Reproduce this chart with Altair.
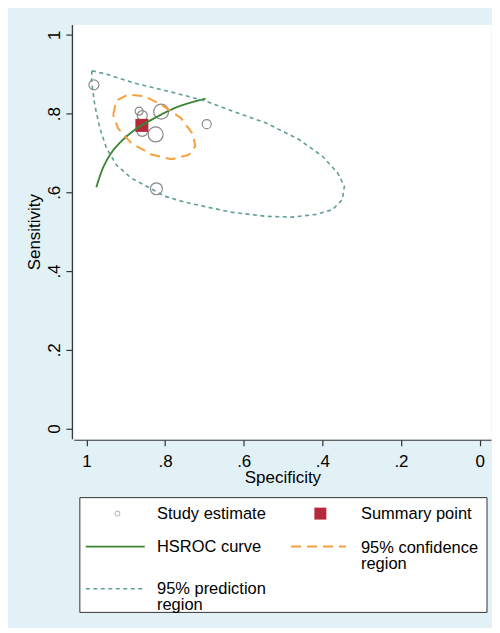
import altair as alt
import pandas as pd

# ---- data ----
study_spec = [0.981, 0.866, 0.858, 0.810, 0.694, 0.858, 0.824, 0.822]
study_sens = [0.873, 0.806, 0.795, 0.805, 0.773, 0.756, 0.747, 0.609]
study_weight = [100, 64, 100, 225, 81, 121, 225, 144]

summary_spec = [0.859]
summary_sens = [0.770]

hsroc_spec = [0.975, 0.958, 0.937, 0.911, 0.877, 0.835, 0.776, 0.697]
hsroc_sens = [0.613, 0.662, 0.700, 0.730, 0.759, 0.784, 0.814, 0.838]

conf_spec = [0.932, 0.924, 0.894, 0.852, 0.810, 0.759, 0.729, 0.723, 0.740,
             0.784, 0.835, 0.886, 0.920, 0.932]
conf_sens = [0.797, 0.833, 0.848, 0.844, 0.823, 0.788, 0.747, 0.717, 0.695,
             0.684, 0.696, 0.725, 0.763, 0.797]

pred_spec = [0.986, 0.945, 0.877, 0.810, 0.750, 0.695, 0.628, 0.543, 0.459,
             0.399, 0.361, 0.344, 0.349, 0.374, 0.416, 0.476, 0.543, 0.628,
             0.695, 0.750, 0.801, 0.839, 0.886, 0.924, 0.949, 0.966, 0.979,
             0.987, 0.986]
pred_sens = [0.909, 0.899, 0.877, 0.861, 0.846, 0.831, 0.806, 0.776, 0.734,
             0.691, 0.649, 0.615, 0.582, 0.556, 0.544, 0.537, 0.539, 0.549,
             0.563, 0.575, 0.590, 0.611, 0.636, 0.670, 0.712, 0.763, 0.823,
             0.882, 0.909]

tick_values = [0, 0.2, 0.4, 0.6, 0.8, 1]

legend_labels = ["Study estimate", "Summary point", "HSROC curve",
                 "95% confidence\nregion", "95% prediction\nregion"]

# ---- styles ----
FONT = "Liberation Sans"
FS = 17
LFS = 16.5
BG = "#e2f1f6"
C_STUDY = "#8a8a8a"
C_SUM = "#b5293b"
C_HSROC = "#3b8434"
C_CONF = "#f6a03c"
C_PRED = "#5e9f97"
DASH_CONF = [10, 6]
DASH_PRED = [4, 3.5]

study_df = pd.DataFrame({"spec": study_spec, "sens": study_sens, "w": study_weight})
summary_df = pd.DataFrame({"spec": summary_spec, "sens": summary_sens})
hsroc_df = pd.DataFrame({"spec": hsroc_spec, "sens": hsroc_sens,
                         "i": list(range(len(hsroc_spec)))})
conf_df = pd.DataFrame({"spec": conf_spec, "sens": conf_sens,
                        "i": list(range(len(conf_spec)))})
pred_df = pd.DataFrame({"spec": pred_spec, "sens": pred_sens,
                        "i": list(range(len(pred_spec)))})

label_expr = ("datum.value == 0 ? '0' : datum.value == 1 ? '1' : "
              "replace(format(datum.value, '.1f'), '0.', '.')")

x_enc = alt.X("spec:Q",
              scale=alt.Scale(domain=[-0.029, 1.032], reverse=True, nice=False, zero=False),
              axis=alt.Axis(values=tick_values, labelExpr=label_expr, title="Specificity",
                            grid=False, tickSize=6, offset=1, labelPadding=8,
                            titlePadding=0, labelFlush=False))
y_enc = alt.Y("sens:Q",
              scale=alt.Scale(domain=[-0.026, 1.026], nice=False, zero=False),
              axis=alt.Axis(values=tick_values, labelExpr=label_expr, title="Sensitivity",
                            grid=False, tickSize=6, offset=2, labelPadding=6,
                            labelAngle=270, labelAlign="center",
                            labelBaseline="alphabetic", titlePadding=2,
                            labelFlush=False))

pts = alt.Chart(study_df).mark_point(shape="circle", filled=False, color=C_STUDY,
                                     strokeWidth=1.2, opacity=1).encode(
    x=x_enc, y=y_enc,
    size=alt.Size("w:Q", scale=alt.Scale(domain=[0, 225], range=[0, 225]), legend=None))

summ = alt.Chart(summary_df).mark_point(shape="square", filled=True, color=C_SUM,
                                        size=170, opacity=1).encode(x="spec:Q", y="sens:Q")

hsroc = alt.Chart(hsroc_df).mark_line(color=C_HSROC, strokeWidth=1.8,
                                      interpolate="monotone").encode(
    x="spec:Q", y="sens:Q", order="i:Q")

conf = alt.Chart(conf_df).mark_line(color=C_CONF, strokeWidth=2,
                                    strokeDash=DASH_CONF).encode(
    x="spec:Q", y="sens:Q", order="i:Q")

pred = alt.Chart(pred_df).mark_line(color=C_PRED, strokeWidth=1.6,
                                    strokeDash=DASH_PRED).encode(
    x="spec:Q", y="sens:Q", order="i:Q")

main = alt.layer(pts, summ, hsroc, conf, pred).properties(
    width=418, height=415,
    view=alt.ViewBackground(fill="white", stroke="transparent"))

# ---- legend panel ----
one = pd.DataFrame({"k": [0]})
lab_df = pd.DataFrame({"label": legend_labels})

box = alt.Chart(one).mark_rect(fill="white", stroke="#333333", strokeWidth=1).encode(
    x=alt.value(6), x2=alt.value(414), y=alt.value(0), y2=alt.value(115))

leg_circle = alt.Chart(one).mark_point(shape="circle", filled=False, color=C_STUDY,
                                       size=25, strokeWidth=1).encode(
    x=alt.value(43.7), y=alt.value(16))
leg_square = alt.Chart(one).mark_point(shape="square", filled=True, color=C_SUM,
                                       size=144, opacity=1).encode(
    x=alt.value(247), y=alt.value(16))
leg_hsroc = alt.Chart(one).mark_rule(color=C_HSROC, strokeWidth=1.8).encode(
    x=alt.value(12), x2=alt.value(71), y=alt.value(49))
leg_conf = alt.Chart(one).mark_rule(color=C_CONF, strokeWidth=2,
                                    strokeDash=DASH_CONF).encode(
    x=alt.value(217.7), x2=alt.value(272.7), y=alt.value(49))
leg_pred = alt.Chart(one).mark_rule(color=C_PRED, strokeWidth=1.6,
                                    strokeDash=DASH_PRED).encode(
    x=alt.value(12), x2=alt.value(71), y=alt.value(91.3))

text_pos = [(83.3, 16), (287.7, 16), (83.3, 49), (287.7, 50), (83.3, 91.5)]
texts = []
for lab, (tx, ty) in zip(legend_labels, text_pos):
    texts.append(
        alt.Chart(lab_df).transform_filter(alt.datum.label == lab).mark_text(
            align="left", baseline="middle", fontSize=LFS, lineHeight=16.5,
            lineBreak="\n", font=FONT, color="black").encode(
            text="label:N", x=alt.value(tx), y=alt.value(ty)))

legend = alt.layer(box, leg_circle, leg_square, leg_hsroc, leg_conf, leg_pred,
                   *texts).properties(width=418, height=115)

chart = alt.vconcat(main, legend, spacing=10).properties(
    background=BG,
    padding={"left": 17, "top": 15, "right": 0, "bottom": 13},
).configure_view(stroke="transparent").configure_axis(
    labelFont=FONT, titleFont=FONT, labelFontSize=FS, titleFontSize=FS,
    labelColor="black", titleColor="black", titleFontWeight="normal",
    domainColor="#333333", tickColor="#333333", domainWidth=1.2, tickWidth=1.2)

chart.save("out.html", embed_options={"renderer": "svg", "actions": False})
